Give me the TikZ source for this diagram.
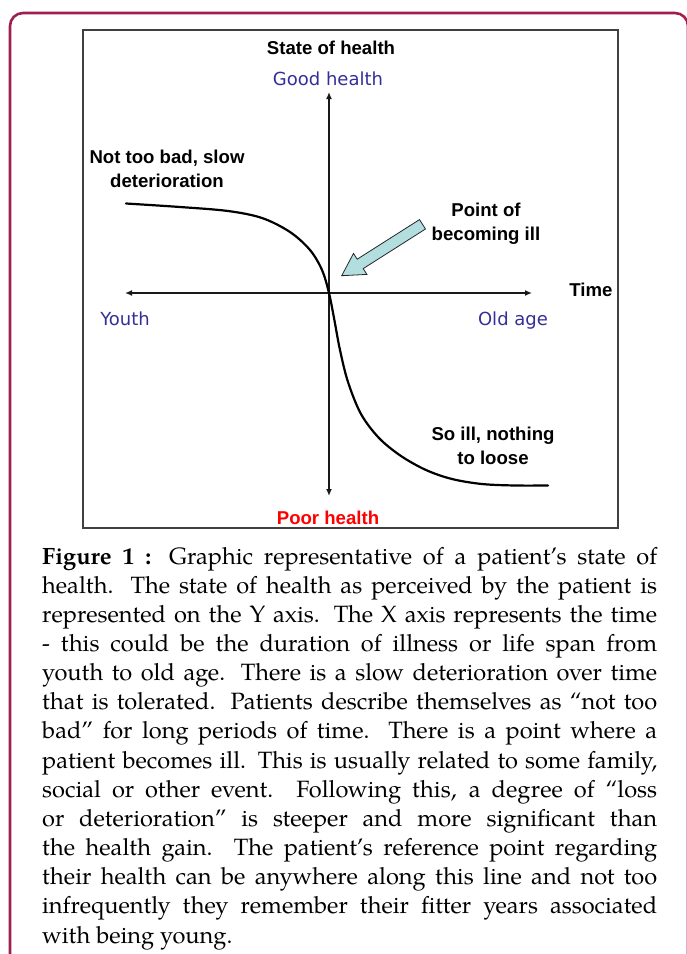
\documentclass[tikz,border=0pt]{standalone}
\usepackage{fontspec}
\usetikzlibrary{arrows.meta}
\setmainfont{texgyrepagella}[Extension=.otf, UprightFont=*-regular, BoldFont=*-bold, ItalicFont=*-italic, BoldItalicFont=*-bolditalic]
\newfontfamily\boldlabel{Liberation Sans}
\newfontfamily\plainlabel{DejaVu Sans}

\definecolor{framecol}{RGB}{158,30,78}
\definecolor{axislbl}{RGB}{52,46,152}
\definecolor{poorcol}{RGB}{255,0,0}
\definecolor{arrowfill}{RGB}{178,222,224}

\tikzset{
  blacklbl/.style={inner sep=0pt, align=center, font=\boldlabel\bfseries\fontsize{18.6}{24}\selectfont},
  bluelbl/.style={inner sep=0pt, text=axislbl, font=\plainlabel\fontsize{18}{22}\selectfont},
  axisline/.style={line width=1.8pt, black!90, {Latex[length=7pt,width=6pt]}-{Latex[length=7pt,width=6pt]}},
  healthcurve/.style={line width=2.2pt, black, line cap=round, line join=round},
  capline/.style={inner sep=0pt, anchor=base west, font=\fontsize{23.6}{29}\selectfont},
}

\begin{document}
\begin{tikzpicture}[x=1pt, y=-1pt]
\useasboundingbox (0,0) rectangle (687,954);

% outer rounded frame
\draw[framecol, line width=2.6pt, rounded corners=13pt] (10,13) rectangle (688,968);

% chart box
\draw[black!75, line width=1.4pt] (83,30) rectangle (618,528);

% axes
\coordinate (ytop) at (329,92);
\coordinate (ybot) at (329,496);
\coordinate (xleft) at (125,293);
\coordinate (xright) at (532,293);
\draw[axisline] (ybot) -- (ytop);
\draw[axisline] (xleft) -- (xright);

% state of health over time
\draw[healthcurve] plot[smooth, tension=0.55] coordinates {
  (126,203.5) (180,207) (228,211) (262,218) (290,232) (310,250) (322,270) (329,293)
  (334,318) (340,350) (348,382) (361,414) (379,438) (401,456) (426,470) (452,479)
  (482,484) (515,485.5) (548,485.5)};

% block arrow to the point of becoming ill
\filldraw[fill=arrowfill, draw=black!85, line width=0.8pt, line join=miter]
  (419.5,219.6) -- (357.2,259.2) -- (353.5,253.4) -- (341.7,275.7)
  -- (366.9,274.4) -- (363.2,268.6) -- (425.5,229.0) -- cycle;

% labels
\node[blacklbl] (state) at (331,48) {State of health};
\node[bluelbl] (good) at (328,79) {Good health};
\node[blacklbl] (notbad) at (167,169) {Not too bad, slow\\deterioration};
\node[blacklbl] (pointill) at (486,224) {Point of\\becoming ill};
\node[blacklbl] (time) at (591,290) {Time};
\node[bluelbl] (youth) at (125,319) {Youth};
\node[bluelbl] (oldage) at (513,321) {Old age};
\node[blacklbl] (soill) at (493,446) {So ill, nothing\\to loose};
\node[blacklbl, text=poorcol] (poor) at (328,518) {Poor health};

% caption
\node[capline] (c1) at (42,564) {\makebox[615pt][s]{\textbf{Figure 1 :} Graphic representative of a patient’s state of}};
\node[capline] (c2) at (42,593.2) {\makebox[615pt][s]{health. The state of health as perceived by the patient is}};
\node[capline] (c3) at (42,622.3) {\makebox[615pt][s]{represented on the Y axis. The X axis represents the time}};
\node[capline] (c4) at (42,651.5) {\makebox[615pt][s]{- this could be the duration of illness or life span from}};
\node[capline] (c5) at (42,680.6) {\makebox[615pt][s]{youth to old age. There is a slow deterioration over time}};
\node[capline] (c6) at (42,709.8) {\makebox[615pt][s]{that is tolerated. Patients describe themselves as “not too}};
\node[capline] (c7) at (42,738.9) {\makebox[615pt][s]{bad” for long periods of time. There is a point where a}};
\node[capline] (c8) at (42,768.1) {\makebox[615pt][s]{patient becomes ill. This is usually related to some family,}};
\node[capline] (c9) at (42,797.2) {\makebox[615pt][s]{social or other event. Following this, a degree of “loss}};
\node[capline] (c10) at (42,826.4) {\makebox[615pt][s]{or deterioration” is steeper and more significant than}};
\node[capline] (c11) at (42,855.5) {\makebox[615pt][s]{the health gain. The patient’s reference point regarding}};
\node[capline] (c12) at (42,884.7) {\makebox[615pt][s]{their health can be anywhere along this line and not too}};
\node[capline] (c13) at (42,913.8) {\makebox[615pt][s]{infrequently they remember their fitter years associated}};
\node[capline] (c14) at (42,943) {with being young.};
\end{tikzpicture}
\end{document}
